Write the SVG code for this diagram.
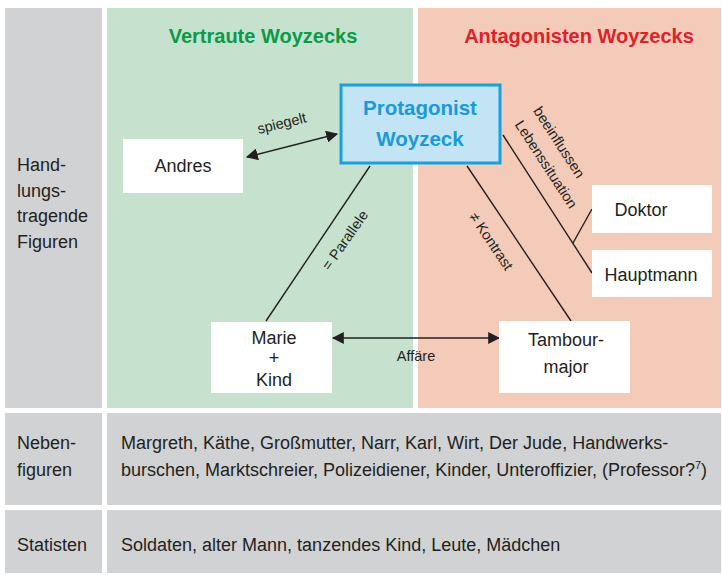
<svg xmlns="http://www.w3.org/2000/svg" width="722" height="575" viewBox="0 0 722 575">
<defs>
<style>
text{font-family:"Liberation Sans","Noto Sans",Arial,sans-serif;fill:#231f20}
.lbl{font-size:18px}
.node{fill:#fff}
.body{font-size:18px}
.edge{stroke:#231f20;stroke-width:1.4;fill:none}
.small{font-size:14.5px}
.title{font-size:20px;font-weight:bold}
.prot{font-size:20.5px;font-weight:bold;fill:#1a9ad6}
</style>
<marker id="ah" viewBox="0 0 10 10" refX="9" refY="5" markerWidth="12" markerHeight="12" markerUnits="userSpaceOnUse" orient="auto-start-reverse">
<path d="M0,0 L10,5 L0,10 z" fill="#231f20"/>
</marker>
</defs>
<rect x="0" y="0" width="722" height="575" fill="#fff"/>
<g id="grid">
<rect x="5" y="8" width="97" height="400" fill="#d1d2d4"/>
<rect x="107" y="8" width="306" height="400" fill="#c6e2cf"/>
<rect x="418" y="8" width="303" height="400" fill="#f4cbb9"/>
<rect x="5" y="413" width="97" height="92" fill="#d1d2d4"/>
<rect x="107" y="413" width="614" height="92" fill="#d1d2d4"/>
<rect x="5" y="510" width="97" height="63" fill="#d1d2d4"/>
<rect x="107" y="510" width="614" height="63" fill="#d1d2d4"/>
</g>
<g id="labels">
<text class="title" x="263" y="43" text-anchor="middle" style="fill:#0a9a48">Vertraute Woyzecks</text>
<text class="title" x="579" y="43" text-anchor="middle" style="fill:#dd2229">Antagonisten Woyzecks</text>
<text class="lbl" x="17" y="171">Hand-</text>
<text class="lbl" x="17" y="197">lungs-</text>
<text class="lbl" x="17" y="222">tragende</text>
<text class="lbl" x="17" y="248">Figuren</text>
<text class="lbl" x="17" y="449">Neben-</text>
<text class="lbl" x="17" y="476">figuren</text>
<text class="lbl" x="17" y="551">Statisten</text>
<text class="body" x="121" y="449">Margreth, Käthe, Großmutter, Narr, Karl, Wirt, Der Jude, Handwerks-</text>
<text class="body" x="121" y="476">burschen, Marktschreier, Polizeidiener, Kinder, Unteroffizier, (Professor?<tspan font-size="11" dy="-7">7</tspan><tspan dy="7">)</tspan></text>
<text class="body" x="121" y="551">Soldaten, alter Mann, tanzendes Kind, Leute, Mädchen</text>
</g>
<g id="connectors">
<line class="edge" x1="247" y1="157" x2="337" y2="134" marker-start="url(#ah)" marker-end="url(#ah)"/>
<line class="edge" x1="333" y1="338" x2="499" y2="338" marker-start="url(#ah)" marker-end="url(#ah)"/>
<line class="edge" x1="370" y1="166" x2="266" y2="321"/>
<line class="edge" x1="467" y1="166" x2="571" y2="321"/>
<line class="edge" x1="503" y1="135" x2="592" y2="273"/>
<line class="edge" x1="573" y1="243" x2="592" y2="209"/>
<text class="small" transform="translate(283,128) rotate(-14)" text-anchor="middle">spiegelt</text>
<text class="small" transform="translate(416,361)" text-anchor="middle">Affäre</text>
<text class="small" transform="translate(349,243) rotate(-55)" text-anchor="middle">= Parallele</text>
<text class="small" transform="translate(487,244) rotate(56)" text-anchor="middle">≠ Kontrast</text>
<text class="small" transform="translate(555,145) rotate(57)" text-anchor="middle">beeinflussen</text>
<text class="small" transform="translate(542,167) rotate(57)" text-anchor="middle">Lebenssituation</text>
</g>
<g id="protagonist">
<rect x="341" y="85" width="159" height="78" fill="#c2e4f4" stroke="#1aa0dc" stroke-width="3"/>
<text class="prot" x="420" y="115" text-anchor="middle">Protagonist</text>
<text class="prot" x="420" y="146" text-anchor="middle">Woyzeck</text>
</g>
<g id="andres">
<rect class="node" x="123" y="139" width="120" height="54"/>
<text class="lbl" x="183" y="172" text-anchor="middle">Andres</text>
</g>
<g id="doktor">
<rect class="node" x="592" y="185" width="120" height="48"/>
<text class="lbl" x="641" y="216" text-anchor="middle">Doktor</text>
</g>
<g id="hauptmann">
<rect class="node" x="592" y="250" width="120" height="47"/>
<text class="lbl" x="651" y="281" text-anchor="middle">Hauptmann</text>
</g>
<g id="marie">
<rect class="node" x="211" y="322" width="121" height="71"/>
<text class="lbl" x="274" y="344" text-anchor="middle">Marie</text>
<text class="lbl" x="274" y="364" text-anchor="middle">+</text>
<text class="lbl" x="274" y="386" text-anchor="middle">Kind</text>
</g>
<g id="tambourmajor">
<rect class="node" x="499" y="321" width="131" height="72"/>
<text class="lbl" x="566" y="346" text-anchor="middle">Tambour-</text>
<text class="lbl" x="566" y="373" text-anchor="middle">major</text>
</g>
</svg>
